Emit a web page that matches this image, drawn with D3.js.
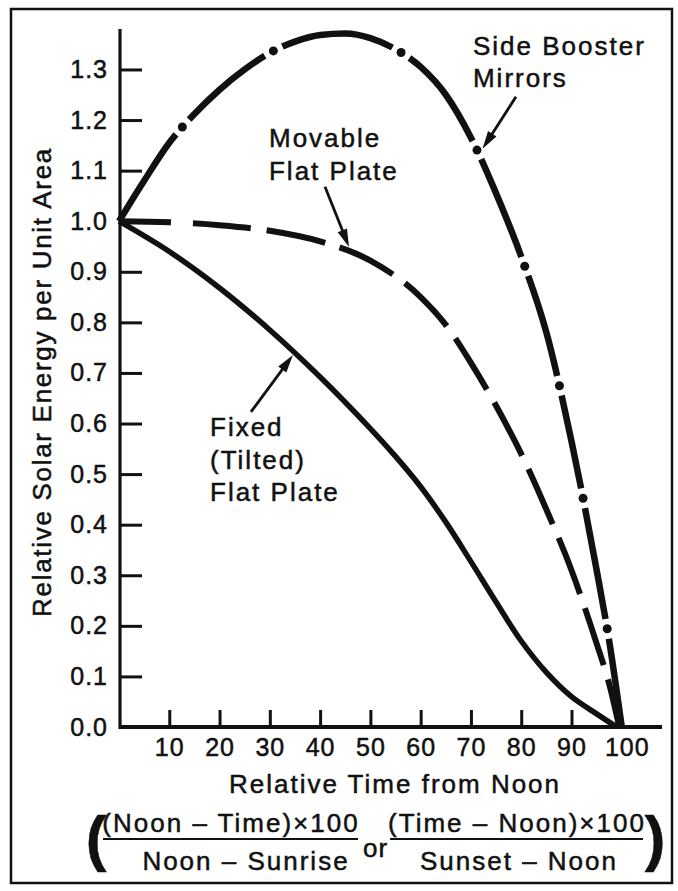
<!DOCTYPE html>
<html><head><meta charset="utf-8">
<script src="https://cdn.jsdelivr.net/npm/d3@7"></script>
<style>
html,body{margin:0;padding:0;background:#fff;}
svg text{font-family:"Liberation Sans",Arial,Helvetica,sans-serif;fill:#111;stroke:#111;stroke-width:0.5px;}
</style></head><body>
<svg id="c" width="678" height="891"></svg>
<script>
// ---- data ----
const xTicks = [10,20,30,40,50,60,70,80,90,100];
const yTicks = [0.0,0.1,0.2,0.3,0.4,0.5,0.6,0.7,0.8,0.9,1.0,1.1,1.2,1.3];

const fixedX = [0,10,20,30,40,50,55,60,65,70,75,80,85,90,95,99];
const fixedY = [1.0,0.94,0.868,0.785,0.692,0.59,0.535,0.475,0.405,0.327,0.247,0.17,0.108,0.06,0.026,0];

const movableX = [0,10,20,30,40,50,60,65,70,75,80,85,90,92.5,95,97.5,99.5];
const movableY = [1.0,0.998,0.992,0.981,0.96,0.922,0.85,0.795,0.72,0.635,0.54,0.43,0.31,0.24,0.165,0.085,0];

const boosterX = [0,5,10,15,20,25,30,35,40,45,50,55,60,65,70,75,80,85,90,95,97.5,100];
const boosterY = [1.0,1.08,1.155,1.212,1.26,1.30,1.333,1.355,1.368,1.371,1.362,1.34,1.305,1.25,1.165,1.055,0.93,0.78,0.565,0.31,0.17,0];
const boosterDots = [12.6,30.7,56.1,71.2,80.7,87.6,92.3,97.1];

const labelLines = [["Side Booster","Mirrors"],["Movable","Flat Plate"],["Fixed","(Tilted)","Flat Plate"]];
const labelAt = [[70.4,1.3286],[29.83,1.1467],[18.1,0.5753]];
const arrowFrom = [[78.96,1.246],[40.97,1.068],[26.25,0.623]];
const arrowTo = [[72.3,1.143],[45.75,0.949],[34.6,0.7355]];

const yTitle = "Relative Solar Energy per Unit Area";
const xTitle = "Relative Time from Noon";
const num1 = "(Noon – Time)×100", den1 = "Noon – Sunrise";
const num2 = "(Time – Noon)×100", den2 = "Sunset – Noon";

// ---- drawing ----
const svg = d3.select("#c");
const ink = "#111";
svg.append("rect").attr("width",678).attr("height",891).attr("fill","#fff");
svg.append("rect").attr("x",11).attr("y",9).attr("width",661).attr("height",874)
  .attr("fill","none").attr("stroke",ink).attr("stroke-width",2.5);

const x = d3.scaleLinear().domain([0,108]).range([119,662]);
const y = d3.scaleLinear().domain([0,1.38]).range([727,29]);

// y axis
const gy = svg.append("g").attr("transform",`translate(${x(0)+1},0)`)
  .call(d3.axisLeft(y).tickValues(yTicks).tickFormat(d3.format(".1f"))
    .tickSizeInner(-22).tickSizeOuter(0).tickPadding(12));
gy.select(".domain").remove();
gy.selectAll(".tick line").attr("stroke",ink).attr("stroke-width",3);
gy.selectAll(".tick").filter(d=>d===0).select("line").remove();
gy.selectAll(".tick text").attr("font-size",25).attr("letter-spacing",1).attr("fill",ink);

// x axis
const gx = svg.append("g").attr("transform",`translate(0,${y(0)})`)
  .call(d3.axisBottom(x).tickValues(xTicks).tickFormat(d3.format("d"))
    .tickSizeInner(-17).tickSizeOuter(0).tickPadding(11));
gx.select(".domain").remove();
gx.selectAll(".tick line").attr("stroke",ink).attr("stroke-width",3);
gx.selectAll(".tick").filter(d=>d===100).select("line").remove();
gx.selectAll(".tick").filter(d=>d===100).select("text").attr("dx",5);
gx.selectAll(".tick text").attr("font-size",25).attr("letter-spacing",1).attr("fill",ink);

// axis lines
svg.append("line").attr("x1",x(0)+1).attr("x2",x(0)+1).attr("y1",y(0)+2).attr("y2",y(1.38))
  .attr("stroke",ink).attr("stroke-width",3.2);
svg.append("line").attr("x1",x(0)).attr("x2",x(108)).attr("y1",y(0)).attr("y2",y(0))
  .attr("stroke",ink).attr("stroke-width",4);

const line = d3.line().x(d=>x(d[0])).y(d=>y(d[1])).curve(d3.curveMonotoneX);
const smooth = d3.line().x(d=>x(d[0])).y(d=>y(d[1])).curve(d3.curveCatmullRom.alpha(0.5));
const zip = (a,b)=>a.map((v,i)=>[v,b[i]]);

// fixed (solid)
svg.append("path").attr("d",smooth(zip(fixedX,fixedY))).attr("fill","none")
  .attr("stroke",ink).attr("stroke-width",5.5).attr("stroke-linejoin","round");

// movable (dashed)
svg.append("path").attr("d",line(zip(movableX,movableY))).attr("fill","none")
  .attr("stroke",ink).attr("stroke-width",6).attr("stroke-dasharray","52 22 58 16 60 15 60 15 60 15 60 15 60 15 60 15 60 15 60 15");

// booster (dash-dot)
const bp = svg.append("path").attr("d",line(zip(boosterX,boosterY))).attr("fill","none")
  .attr("stroke",ink).attr("stroke-width",6.5);
const node = bp.node();
const total = node.getTotalLength();
function lenAtX(xv){
  let lo=0, hi=total;
  for(let i=0;i<40;i++){const m=(lo+hi)/2; if(node.getPointAtLength(m).x<xv) lo=m; else hi=m;}
  return (lo+hi)/2;
}
const g = 10;
const dotLens = boosterDots.map(d=>lenAtX(x(d)));
const dash=[]; let pos=0;
dotLens.forEach(L=>{dash.push(Math.max(L-g-pos,0), 2*g); pos=L+g;});
dash.push(total-pos+2, 50);
bp.attr("stroke-dasharray",dash.join(" "));
svg.selectAll("circle.dot").data(dotLens).join("circle").attr("class","dot")
  .attr("cx",L=>node.getPointAtLength(L).x).attr("cy",L=>node.getPointAtLength(L).y)
  .attr("r",4.5).attr("fill",ink);

// arrows
arrowFrom.forEach((f,i)=>{
  const t = arrowTo[i];
  const x1=x(f[0]), y1=y(f[1]), x2=x(t[0]), y2=y(t[1]);
  const a = Math.atan2(y2-y1,x2-x1), hl=18, hw=5;
  const bx = x2-hl*Math.cos(a), by = y2-hl*Math.sin(a);
  svg.append("line").attr("x1",x1).attr("y1",y1).attr("x2",bx+3*Math.cos(a)).attr("y2",by+3*Math.sin(a))
    .attr("stroke",ink).attr("stroke-width",2.8);
  const px = -Math.sin(a), py = Math.cos(a);
  svg.append("path").attr("d",`M${x2},${y2}L${bx+hw*px},${by+hw*py}L${bx-hw*px},${by-hw*py}Z`).attr("fill",ink);
});

// labels
labelLines.forEach((lines,i)=>{
  const t = svg.append("text").attr("x",x(labelAt[i][0])).attr("y",y(labelAt[i][1]))
    .attr("font-size",26).attr("letter-spacing",2);
  lines.forEach((s,j)=>t.append("tspan").attr("x",x(labelAt[i][0])).attr("dy",j?32.5:0).text(s));
});

// y title
svg.append("text").attr("transform","translate(51,382) rotate(-90)").attr("text-anchor","middle")
  .attr("font-size",26).attr("letter-spacing",1.7).text(yTitle);

// x title
svg.append("text").attr("x",395).attr("y",793).attr("text-anchor","middle")
  .attr("font-size",26).attr("letter-spacing",2).text(xTitle);

// formula
function frac(cx, lx1, lx2, num, den, dcx){
  svg.append("text").attr("x",cx).attr("y",832).attr("text-anchor","middle")
    .attr("font-size",26).attr("letter-spacing",2).text(num);
  svg.append("line").attr("x1",lx1).attr("x2",lx2).attr("y1",839).attr("y2",839)
    .attr("stroke",ink).attr("stroke-width",2);
  svg.append("text").attr("x",dcx).attr("y",870).attr("text-anchor","middle")
    .attr("font-size",26).attr("letter-spacing",2).text(den);
}
frac(231,103,358,num1,den1,246);
frac(517,390,643,num2,den2,519);
svg.append("text").attr("x",363).attr("y",857).attr("font-size",26).attr("letter-spacing",1).text("or");
svg.append("text").attr("x",96).attr("y",859).attr("text-anchor","middle")
  .attr("font-size",62).attr("font-weight","bold").attr("stroke-width",0).text("(");
svg.append("text").attr("x",655).attr("y",859).attr("text-anchor","middle")
  .attr("font-size",62).attr("font-weight","bold").attr("stroke-width",0).text(")");
</script>
</body></html>
